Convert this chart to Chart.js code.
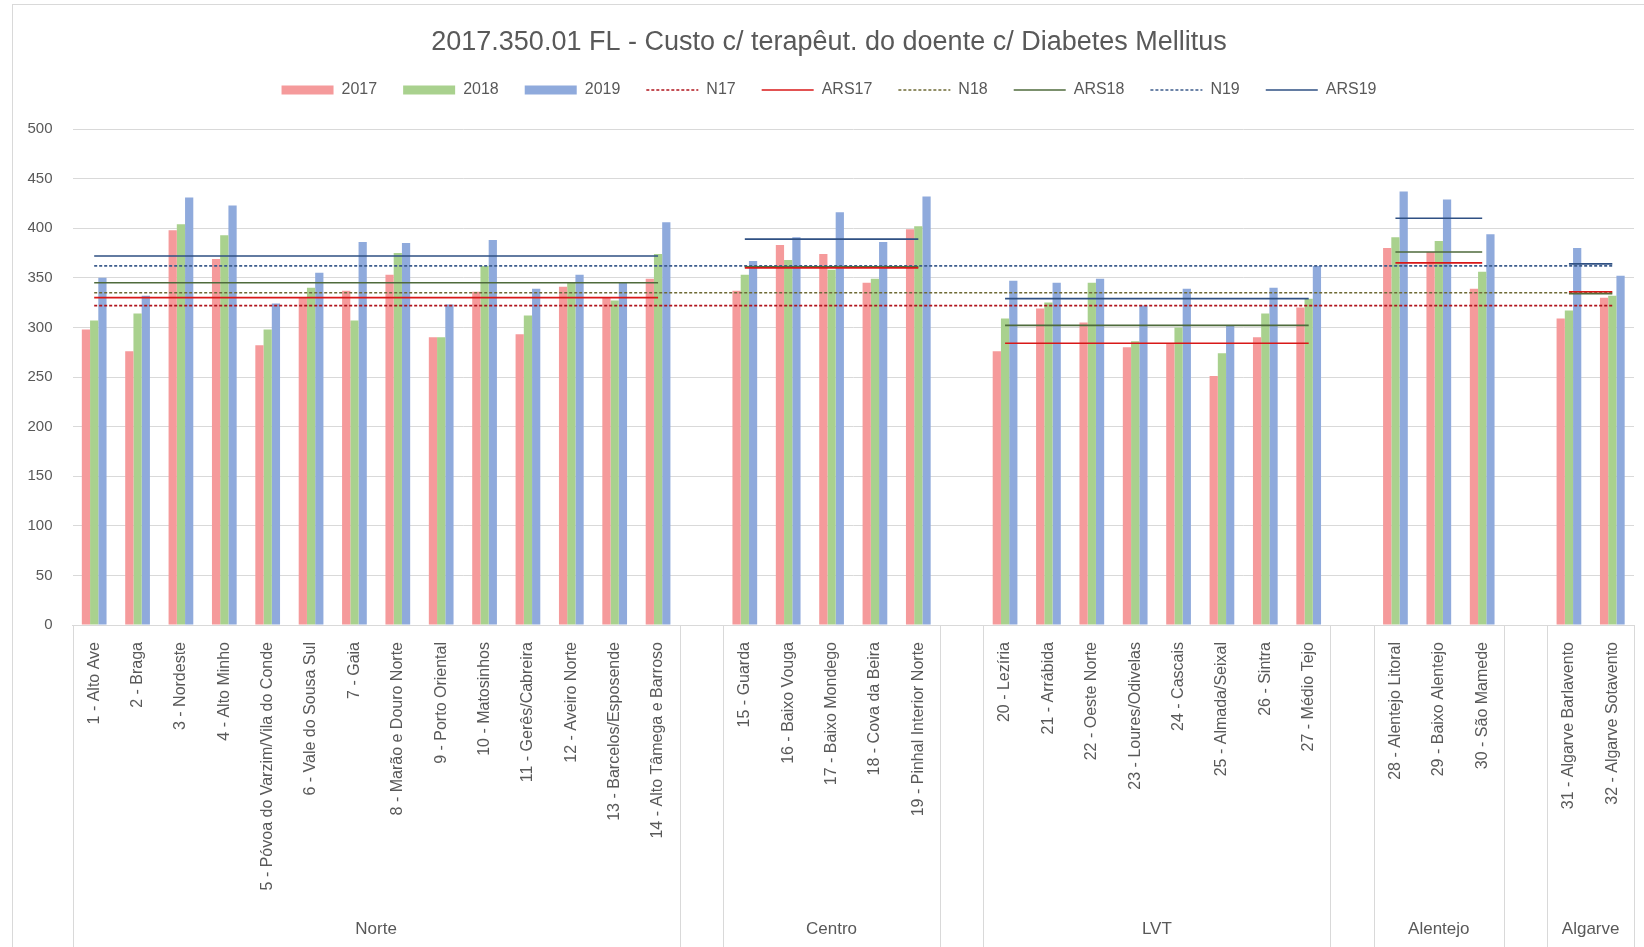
<!DOCTYPE html>
<html>
<head>
<meta charset="utf-8">
<script src="https://cdn.jsdelivr.net/npm/chart.js@4.4.1/dist/chart.umd.min.js"></script>
<style>
  html, body { margin: 0; background: #fff; }
  #wrap { width: 1644px; height: 947px; position: relative; }
</style>
</head>
<body>
<div id="wrap"><canvas id="chart"></canvas></div>
<script>
// Custo c/ terapêutica do doente c/ Diabetes Mellitus, por ACES e região

const regionNames = ['Norte', 'Centro', 'LVT', 'Alentejo', 'Algarve'];

const acesNorte = ['1 - Alto Ave', '2 - Braga', '3 - Nordeste', '4 - Alto Minho',
  '5 - Póvoa do Varzim/Vila do Conde', '6 - Vale do Sousa Sul', '7 - Gaia',
  '8 - Marão e Douro Norte', '9 - Porto Oriental', '10 - Matosinhos',
  '11 - Gerês/Cabreira', '12 - Aveiro Norte', '13 - Barcelos/Esposende',
  '14 - Alto Tâmega e Barroso'];
const acesCentro = ['15 - Guarda', '16 - Baixo Vouga', '17 - Baixo Mondego',
  '18 - Cova da Beira', '19 - Pinhal Interior Norte'];
const acesLVT = ['20 - Lezíria', '21 - Arrábida', '22 - Oeste Norte',
  '23 - Loures/Odivelas', '24 - Cascais', '25 - Almada/Seixal', '26 - Sintra',
  '27 - Médio Tejo'];
const acesAlentejo = ['28 - Alentejo Litoral', '29 - Baixo Alentejo', '30 - São Mamede'];
const acesAlgarve = ['31 - Algarve Barlavento', '32 - Algarve Sotavento'];

// one value per ACES, in the order above
const v2017 = [298, 276, 398, 369, 282, 330, 337, 353, 290, 336, 293, 341, 330, 349,
  337, 383, 374, 345, 399,
  276, 319, 305, 280, 284, 251, 290, 320,
  380, 376, 339,
  309, 330];
const v2018 = [307, 314, 404, 393, 298, 340, 307, 375, 290, 362, 312, 345, 327, 374,
  353, 368, 358, 349, 402,
  309, 325, 345, 286, 300, 274, 314, 329,
  391, 387, 356,
  317, 332];
const v2019 = [350, 332, 431, 423, 324, 355, 386, 385, 323, 388, 339, 353, 345, 406,
  367, 391, 416, 386, 432,
  347, 345, 349, 322, 339, 302, 340, 362,
  437, 429, 394,
  380, 352];

// national reference (N) and regional reference (ARS), per year
const n17 = 322, n18 = 335, n19 = 362;
const ars17 = [330, 360, 284, 365, 336];
const ars18 = [345, 361, 302, 376, 334];
const ars19 = [372, 389, 329, 410, 364];

const yTicks = { min: 0, max: 500, step: 50 };

// ---- build the category axis with an empty slot between regions ----
const regionAces = [acesNorte, acesCentro, acesLVT, acesAlentejo, acesAlgarve];
const labels = [];
const regionOf = [];      // region index per category, -1 for the spacer
const acesIndex = [];     // index into the value arrays, -1 for the spacer
let k = 0;
regionAces.forEach((list, r) => {
  if (r > 0) { labels.push(''); regionOf.push(-1); acesIndex.push(-1); }
  list.forEach(name => { labels.push(name); regionOf.push(r); acesIndex.push(k++); });
});

const barData = vals => acesIndex.map(i => i < 0 ? null : vals[i]);
const natData = v => labels.map(() => v);
const arsData = vals => regionOf.map(r => r < 0 ? null : vals[r]);

const TXT = '#595959';
const FONT = "'Liberation Sans', Arial, sans-serif";

function barSet(label, data, color) {
  return {
    label, data: barData(data), backgroundColor: color, borderWidth: 0,
    order: 1, pointStyle: 'rect'
  };
}

function lineSet(label, data, color, dashed) {
  return {
    type: 'line', label, data, borderColor: color, backgroundColor: color,
    borderWidth: 1.6, borderDash: dashed ? [3, 2] : [], pointRadius: 0,
    pointHoverRadius: 0, fill: false, tension: 0, order: 0, pointStyle: 'line'
  };
}

// keep dataset order in the legend and show the dotted lines as dotted
function legendLabels(chart) {
  const items = Chart.defaults.plugins.legend.labels.generateLabels(chart);
  items.forEach(it => {
    const ds = chart.data.datasets[it.datasetIndex];
    it.lineDash = ds.borderDash || [];
    it.lineWidth = ds.type === 'line' ? 1.3 : 0;
  });
  return items.sort((a, b) => a.datasetIndex - b.datasetIndex);
}

// room between the legend and the plot
const legendGap = {
  id: 'legendGap',
  beforeInit(chart) {
    const fit = chart.legend.fit;
    chart.legend.fit = function () {
      fit.bind(chart.legend)();
      this.height += 21;
    };
  }
};

// region level of the category axis + chart frame
const groupAxis = {
  id: 'groupAxis',
  afterDraw(chart) {
    const { ctx, scales: { x }, chartArea } = chart;
    const step = x.getPixelForValue(1) - x.getPixelForValue(0);
    const top = chartArea.bottom;
    const bottom = chart.height;

    // block boundaries: each region and each spacer is its own block
    const starts = [];
    regionOf.forEach((r, i) => {
      if (i === 0 || r !== regionOf[i - 1] || r < 0) starts.push(i);
    });

    ctx.save();
    ctx.strokeStyle = '#d9d9d9';
    ctx.lineWidth = 1;
    ctx.beginPath();
    starts.concat([labels.length]).forEach(i => {
      const px = Math.round(x.getPixelForValue(i) - step / 2) + 0.5;
      ctx.moveTo(px, top);
      ctx.lineTo(px, bottom);
    });
    ctx.stroke();

    ctx.fillStyle = TXT;
    ctx.font = `17px ${FONT}`;
    ctx.textAlign = 'center';
    ctx.textBaseline = 'middle';
    regionNames.forEach((name, r) => {
      const idx = regionOf.map((v, i) => v === r ? i : -1).filter(i => i >= 0);
      const cx = (x.getPixelForValue(idx[0]) + x.getPixelForValue(idx[idx.length - 1])) / 2;
      ctx.fillText(name, cx, 929);
    });

    ctx.strokeRect(12.5, 4.5, chart.width + 20, chart.height + 20);
    ctx.restore();
  }
};

new Chart(document.getElementById('chart'), {
  type: 'bar',
  data: {
    labels,
    datasets: [
      barSet('2017', v2017, '#F59A9B'),
      barSet('2018', v2018, '#A9D18E'),
      barSet('2019', v2019, '#8FAADC'),
      lineSet('N17', natData(n17), '#B0141C', true),
      lineSet('ARS17', arsData(ars17), '#D81818', false),
      lineSet('N18', natData(n18), '#6E6A36', true),
      lineSet('ARS18', arsData(ars18), '#4F6B3C', false),
      lineSet('N19', natData(n19), '#3D5C8C', true),
      lineSet('ARS19', arsData(ars19), '#2F5083', false)
    ]
  },
  options: {
    responsive: true,
    maintainAspectRatio: false,
    animation: false,
    // some left padding so title and legend sit centred on the framed area
    layout: { padding: { left: 24, right: 10, top: 0, bottom: 0 } },
    datasets: {
      bar: { categoryPercentage: 0.57, barPercentage: 1.0 }
    },
    plugins: {
      title: {
        display: true,
        text: '2017.350.01 FL - Custo c/ terapêut. do doente c/ Diabetes Mellitus',
        color: TXT,
        font: { family: FONT, size: 27, weight: 'normal', lineHeight: 1 },
        padding: { top: 29, bottom: 0 }
      },
      legend: {
        position: 'top',
        labels: {
          usePointStyle: true,
          pointStyleWidth: 52,
          boxHeight: 9,
          padding: 26,
          color: TXT,
          font: { family: FONT, size: 16 },
          generateLabels: legendLabels
        }
      },
      tooltip: { enabled: false }
    },
    scales: {
      x: {
        grid: { display: false },
        border: { display: true, color: '#d9d9d9' },
        ticks: {
          autoSkip: false, minRotation: 90, maxRotation: 90,
          padding: 9, color: TXT, font: { family: FONT, size: 16 }
        },
        afterFit(s) { s.height = 322; }
      },
      y: {
        min: yTicks.min,
        max: yTicks.max,
        grid: { color: '#d9d9d9', drawTicks: false },
        border: { display: false },
        ticks: {
          stepSize: yTicks.step, padding: 20, color: TXT,
          font: { family: FONT, size: 15 }
        },
        afterFit(s) { s.width = 48.5; }
      }
    }
  },
  plugins: [legendGap, groupAxis]
});
</script>
</body>
</html>
